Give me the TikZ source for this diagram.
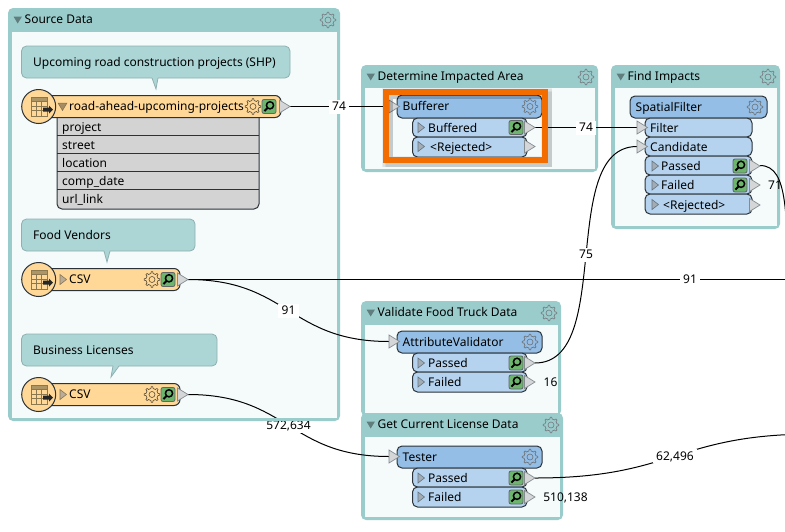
\documentclass[tikz,border=0pt]{standalone}
\usepackage{fontspec}
\setmainfont{Noto Sans}
\definecolor{bmband}{HTML}{9BCCCC}
\definecolor{bmin}{HTML}{F5FBFB}
\definecolor{note}{HTML}{ACD5D5}
\definecolor{noteline}{HTML}{8FB0B0}
\definecolor{reader}{HTML}{FFD898}
\definecolor{xfhead}{HTML}{94BEE6}
\definecolor{xfport}{HTML}{B5D3EF}
\definecolor{attr}{HTML}{D3D3D3}
\definecolor{ink}{HTML}{2B3238}
\definecolor{grid}{HTML}{8A7850}
\definecolor{portfill}{HTML}{D4D6D8}
\definecolor{portline}{HTML}{858C90}
\definecolor{lensg}{HTML}{6DB56D}
\definecolor{hot}{HTML}{F36C00}
\tikzset{
  x=1pt,y=-1pt,
  lbl/.style={anchor=west,inner sep=0pt,text=black,text height=10pt,text depth=2pt,font=\fontsize{12}{14}\selectfont},
  cnt/.style={inner xsep=3.5pt,inner ysep=1pt,fill=white,text=black,text height=10pt,text depth=2pt,font=\fontsize{12}{14}\selectfont},
  free/.style={inner sep=0pt,text=black,text height=10pt,text depth=2pt,font=\fontsize{12}{14}\selectfont},
  wire/.style={draw=black,line width=1pt},
  body/.style={draw=ink,line width=1pt,rounded corners=5pt},
  gearline/.style={draw=#1,line width=.6pt,line join=round},
}
% gear: x y colour
\newcommand{\gearicon}[3]{%
  \begin{scope}[shift={(#1,#2)}]
    \draw[gearline=#3] plot[domain=0:360,samples=65,variable=\t]
      ({(6+1.8*(cos(8*\t)>0))*cos(\t)},{(6+1.8*(cos(8*\t)>0))*sin(\t)}) -- cycle;
    \draw[gearline=#3] (0,0) circle (3);
  \end{scope}}
% inspection lens: x y
\newcommand{\lensicon}[2]{%
  \begin{scope}[shift={(#1,#2)}]
    \draw[fill=lensg,draw=ink!75,line width=.8pt,rounded corners=2pt] (-7,-7) rectangle (7,7);
    \draw[draw=black,line width=1.5pt] (1,-1.2) circle (3.6);
    \draw[draw=black,line width=2pt] (-1.5,1.5) -- (-4.6,4.6);
  \end{scope}}
% out port: name x y
\newcommand{\outport}[3]{%
  \draw[fill=portfill,draw=portline,line width=.7pt] (#2-10.5,#3-6.5) -- (#2,#3) -- (#2-10.5,#3+6.5) -- cycle;
  \coordinate (#1) at (#2,#3);}
% in port: name x y
\newcommand{\inport}[3]{%
  \draw[fill=portfill,draw=portline,line width=.7pt] (#2,#3-6.5) -- (#2+10.5,#3) -- (#2,#3+6.5) -- cycle;
  \coordinate (#1) at (#2,#3);}
% small right triangle: x y colour
\newcommand{\tri}[3]{\draw[fill=#3!60!white,draw=#3,line width=.6pt] (#1-2,#2-5) -- (#1+4.5,#2) -- (#1-2,#2+5) -- cycle;}
% bookmark: name x1 y1 x2 y2 band title
\newcommand{\bookmark}[7]{%
  \fill[bmband,rounded corners=5pt] (#2,#3) rectangle (#4,#5);
  \fill[bmin] (#2+3.5,#6) rectangle (#4-3.5,#5-3.5);
  \fill[fill=black!38!bmband] (#2+5.5,#3+8.5) -- (#2+14,#3+8.5) -- (#2+9.7,#3+15.5) -- cycle;
  \node[lbl] (#1) at (#2+16.5,#3+11.5) {#7};
  \gearicon{#4-12}{#3+12}{ink!65}}
% note: name x1 y1 x2 y2 px tipx text
\newcommand{\notebox}[8]{%
  \draw[fill=note,draw=noteline,line width=.8pt,rounded corners=5pt] (#2,#3) rectangle (#4,#5);
  \fill[note] (#6-4,#5-1) -- (#6+2,#5-1) -- (#7,#5+11) -- cycle;
  \draw[noteline,line width=.8pt] (#6-4,#5) -- (#7,#5+11) -- (#6+2,#5);
  \node[lbl] (#1) at (#2+11.5,#3+16) {#8};}
% reader: name x2 y text
\newcommand{\readerbar}[4]{%
  \draw[body,fill=reader,rounded corners=6pt] (45,#3-11) rectangle (#2,#3+11);
  \draw[fill=reader,draw=ink,line width=1pt] (38.7,#3) circle (17);
  \fill[grid!70!reader] (31,#3-9.5) rectangle (47,#3-5);
  \draw[grid,line width=.9pt] (31,#3-9.5) rectangle (47,#3+9.5);
  \foreach \u in {-5,-.5,4}{\draw[grid,line width=.8pt] (31,#3+\u) -- (47,#3+\u);}
  \foreach \u in {36.5,41.5}{\draw[grid,line width=.8pt] (\u,#3-5) -- (\u,#3+9.5);}
  \fill[black!85] (43,#3+1) rectangle (49,#3+5) (49,#3-1) -- (53,#3+3) -- (49,#3+7) -- cycle;
  \node[lbl] (#1) at (69,#3) {#4};
  \gearicon{#2-28}{#3}{black!65!reader}
  \lensicon{#2-12}{#3}}
% transformer head: name x1 x2 y1 y2 text
\newcommand{\xfhead}[6]{%
  \draw[body,fill=xfhead] (#2,#4) rectangle (#3,#5);
  \node[lbl] (#1) at (#2+5.5,#4/2+#5/2) {#6};
  \gearicon{#3-12}{#4/2+#5/2}{ink!70}}
% port row: x1 x2 y1 y2
\newcommand{\xfrow}[4]{\draw[body,fill=xfport] (#1,#3) rectangle (#2,#4);}
\begin{document}
\begin{tikzpicture}
\useasboundingbox (0,0) rectangle (785,531);
\clip (0,0) rectangle (785,531);
\fill[white] (0,0) rectangle (785,531);

% ---- bookmarks
\bookmark{bmsource}{8}{8}{340}{421}{32}{Source Data}
\bookmark{bmimpact}{361}{65}{598}{172}{88}{Determine Impacted Area}
\bookmark{bmfind}{611}{65}{780}{229}{88}{Find Impacts}
\bookmark{bmvalid}{361}{301}{561}{416}{325}{Validate Food Truck Data}
\bookmark{bmlic}{361}{413}{563}{520}{437}{Get Current License Data}

% ---- notes
\notebox{noteone}{21.5}{46}{290}{78}{156}{156}{Upcoming road construction projects (SHP)}
\notebox{notetwo}{21.5}{219}{195}{251}{108}{107}{Food Vendors}
\notebox{notethree}{21.5}{334}{217}{366}{117}{111}{Business Licenses}

% ---- attribute list
\draw[body,fill=attr] (57,112) rectangle (259,209);
\foreach \u in {135.5,153.5,171.5,189.5}{\draw[ink,line width=.8pt] (57,\u) -- (259,\u);}
\node[lbl] (aone) at (62,127) {project};
\node[lbl] (atwo) at (62,145) {street};
\node[lbl] (athree) at (62,163) {location};
\node[lbl] (afour) at (62,181) {comp\_date};
\node[lbl] (afive) at (62,199) {url\_link};

% ---- readers
\readerbar{rone}{281}{106.5}{road-ahead-upcoming-projects}
\draw[fill=black!35!reader,draw=black!50!reader,line width=.5pt] (58,103) -- (67,103) -- (62.5,110.5) -- cycle;
\readerbar{rtwo}{180}{279.5}{CSV}
\tri{62}{279.5}{black!45!reader}
\readerbar{rthree}{180}{394.5}{CSV}
\tri{62}{394.5}{black!45!reader}

% ---- transformers
\xfhead{buf}{397}{542}{95}{118}{Bufferer}
\xfrow{412.5}{527}{118}{137}
\xfrow{412.5}{527}{137}{157}
\tri{420}{127.5}{black!45!xfport}\tri{420}{146.5}{black!45!xfport}
\node[lbl] (bufa) at (428,128) {Buffered};
\node[lbl] (bufb) at (430,147) {<Rejected>};
\lensicon{516}{127.5}

\xfhead{sf}{630}{767}{96}{118}{SpatialFilter}
\xfrow{645}{752}{118}{137}
\xfrow{645}{752}{137}{156}
\xfrow{645}{752}{156}{175}
\xfrow{645}{752}{175}{194}
\xfrow{645}{752}{194}{214}
\node[lbl] (sfa) at (650,128) {Filter};
\node[lbl] (sfb) at (650,147) {Candidate};
\tri{654}{166}{black!45!xfport}\tri{654}{185}{black!45!xfport}\tri{654}{204.5}{black!45!xfport}
\node[lbl] (sfc) at (661,166) {Passed};
\node[lbl] (sfd) at (661,185) {Failed};
\node[lbl] (sfe) at (663,205) {<Rejected>};
\lensicon{740}{166}\lensicon{740}{185}

\xfhead{av}{397}{542}{331}{353}{AttributeValidator}
\xfrow{412.5}{527}{353}{372}
\xfrow{412.5}{527}{372}{392}
\tri{420}{363}{black!45!xfport}\tri{420}{382}{black!45!xfport}
\node[lbl] (ava) at (428,363) {Passed};
\node[lbl] (avb) at (428,382) {Failed};
\lensicon{516}{363}\lensicon{516}{382}

\xfhead{te}{397}{542}{446}{468}{Tester}
\xfrow{412.5}{527}{468}{487}
\xfrow{412.5}{527}{487}{507}
\tri{420}{478}{black!45!xfport}\tri{420}{497}{black!45!xfport}
\node[lbl] (tea) at (428,478) {Passed};
\node[lbl] (teb) at (428,497) {Failed};
\lensicon{516}{478}\lensicon{516}{497}

% ---- connectors
\coordinate (pone) at (289,106.5);
\coordinate (ptwo) at (188,279.5);
\coordinate (pthree) at (188,394.5);
\coordinate (ibuf) at (389,106.5);
\coordinate (ifil) at (637,127.5);
\coordinate (icand) at (637,146.5);
\coordinate (iav) at (389,341.5);
\coordinate (ite) at (389,456.5);
\coordinate (obuf) at (535,127.5);
\coordinate (oav) at (535,363);
\coordinate (ote) at (535,478);
\coordinate (osf) at (760,165.5);
\coordinate (farv) at (1192,279.5);
\coordinate (farw) at (815,434);
\coordinate (farx) at (790,290);

\draw[wire] (pone) -- node[cnt] (cone) {74} (ibuf);
\draw[wire] (obuf) -- node[cnt] (ctwo) {74} (ifil);
\draw[wire] (oav) .. controls +(80,0) and +(-80,0) .. node[cnt,pos=.5] (cthree) {75} (icand);
\draw[wire] (ptwo) -- node[cnt,pos=.5] (cfour) {91} (farv);
\draw[wire] (ptwo) .. controls +(100,0) and +(-100,0) .. node[cnt,pos=.5] (cfive) {91} (iav);
\draw[wire] (pthree) .. controls +(100,0) and +(-100,0) .. node[cnt,pos=.5] (csix) {572,634} (ite);
\draw[wire] (ote) .. controls +(140,0) and +(-140,0) .. node[cnt,pos=.5] (cseven) {62,496} (farw);
\draw[wire] (osf) .. controls +(30,0) and +(-5,-70) .. (farx);

% source box bottom edge stays above the count label
\fill[bmband] (20,417.5) rectangle (330,421);

% ---- ports on top
\outport{opone}{290}{106.5}
\outport{optwo}{188}{279.5}
\outport{opthree}{188}{394.5}
\inport{ipbuf}{389}{106.5}
\outport{opbuf}{535}{127.5}
\outport{oprej}{535}{146.5}
\inport{ipfil}{637}{127.5}
\inport{ipcand}{637}{146.5}
\outport{opsfa}{760}{166}
\outport{opsfb}{760}{185}
\outport{opsfc}{760}{205}
\inport{ipav}{389}{341.5}
\outport{opava}{535}{363}
\outport{opavb}{535}{382}
\inport{ipte}{389}{456.5}
\outport{optea}{535}{478}
\outport{opteb}{535}{497}

% ---- free counts
\node[free] (fone) at (775,185) {71};
\node[free] (ftwo) at (550.5,382) {16};
\node[free] (fthree) at (565.5,497) {510,138};

% ---- highlight
\foreach \o/\w in {1/11,2/9.5,2.5/8,3/7}{\draw[black,opacity=.05,line width=\w pt] (386+\o,92+\o) rectangle (545+\o,160+\o);}
\draw[hot,line width=6pt] (386,92) rectangle (545,160);
\end{tikzpicture}
\end{document}
